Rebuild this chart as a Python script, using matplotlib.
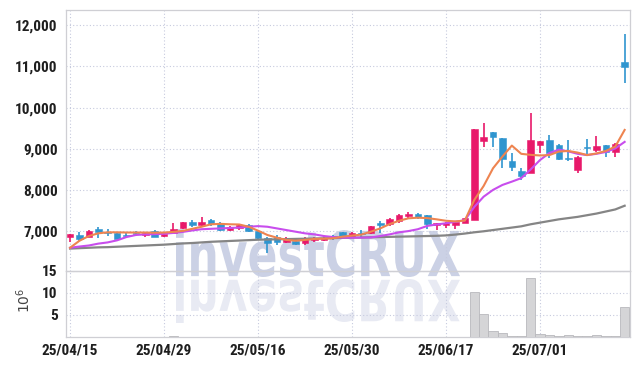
import matplotlib
matplotlib.use("Agg")
import matplotlib.pyplot as plt
import numpy as np
import pandas as pd
from matplotlib.textpath import TextPath
from matplotlib.font_manager import FontProperties, fontManager
from matplotlib.patches import PathPatch
from matplotlib.transforms import Affine2D, IdentityTransform

# ---------------- data ----------------
holidays = ['2025-05-01', '2025-05-05', '2025-05-06', '2025-06-03', '2025-06-06']
dates = [d for d in pd.bdate_range('2025-04-15', '2025-07-14') if d.strftime('%Y-%m-%d') not in holidays]

opens = [6855, 6910, 6855, 7055, 6985, 6950, 6910, 6950, 6920, 7015,
         6885, 6970, 7080, 7225, 7150, 7275, 7195, 7030, 7080, 7145,
         7000, 6835, 6870, 6750, 6770, 6710, 6780, 6790, 6885, 6990,
         6870, 6950, 6950, 7195, 7180, 7260, 7375, 7420, 7395, 7150,
         7150, 7150, 7210, 7275, 9180, 9400, 9260, 8715, 8465, 8420,
         9095, 9210, 9090, 8790, 8490, 9050, 8970, 9090, 8930, 11100]
closes = [6925, 6815, 7005, 6985, 6965, 6815, 6895, 6925, 6950, 6870,
          6935, 7055, 7225, 7150, 7225, 7180, 7030, 7100, 7150, 7005,
          6830, 6710, 6750, 6805, 6685, 6805, 6830, 6830, 6830, 6855,
          6950, 6930, 7130, 7155, 7300, 7395, 7420, 7340, 7180, 7195,
          7210, 7235, 7315, 9480, 9285, 9300, 8750, 8555, 8345, 9210,
          9190, 8895, 8750, 8750, 8815, 9015, 9065, 8935, 9130, 10990]
highs = [6930, 6975, 7030, 7100, 7050, 6975, 6950, 7010, 6980, 7020,
         6945, 7190, 7230, 7270, 7340, 7300, 7230, 7120, 7180, 7170,
         7010, 6850, 6910, 6870, 6800, 6850, 6870, 6890, 6910, 6990,
         6990, 7030, 7140, 7240, 7320, 7420, 7470, 7440, 7400, 7200,
         7220, 7240, 7320, 9480, 9640, 9400, 9260, 8890, 8540, 9865,
         9195, 9330, 9110, 9210, 8830, 9230, 9310, 9090, 9140, 11800]
lows = [6750, 6770, 6850, 6830, 6890, 6810, 6860, 6885, 6870, 6865,
        6870, 6960, 7060, 7110, 7120, 7120, 7010, 7010, 7020, 6990,
        6810, 6470, 6660, 6720, 6660, 6660, 6750, 6760, 6780, 6830,
        6830, 6870, 6940, 6960, 7130, 7190, 7330, 7300, 7050, 7030,
        7070, 7060, 7200, 7275, 9040, 9040, 8530, 8465, 8250, 8420,
        8900, 8790, 8730, 8710, 8420, 8850, 8930, 8800, 8800, 10600]
volumes = [0.06, 0.05, 0.07, 0.06, 0.04, 0.05, 0.04, 0.04, 0.03, 0.05,
           0.04, 0.30, 0.06, 0.05, 0.06, 0.05, 0.04, 0.04, 0.03, 0.04,
           0.05, 0.07, 0.05, 0.04, 0.04, 0.04, 0.03, 0.04, 0.04, 0.05,
           0.04, 0.04, 0.06, 0.05, 0.06, 0.07, 0.06, 0.05, 0.06, 0.04,
           0.05, 0.06, 0.07, 10.2, 5.2, 1.3, 1.0, 0.3, 0.3, 13.4,
           0.6, 0.45, 0.15, 0.4, 0.15, 0.15, 0.4, 0.15, 0.15, 6.8]
ma_short = [6600, 6770, 6885, 6950, 6975, 6975, 6970, 6970, 6970, 6965,
            6970, 6985, 7010, 7060, 7110, 7170, 7180, 7170, 7165, 7110,
            7015, 6910, 6845, 6790, 6770, 6790, 6815, 6820, 6830, 6870,
            6895, 6920, 6990, 7070, 7175, 7255, 7315, 7330, 7320, 7290,
            7255, 7240, 7260, 7760, 8100, 8530, 8815, 9080, 8880, 8855,
            8840, 8850, 8935, 8950, 8910, 8850, 8890, 8950, 9055, 9460]
ma_mid = [6600, 6630, 6655, 6700, 6730, 6780, 6860, 6910, 6925, 6930,
          6940, 6960, 6985, 7020, 7050, 7060, 7070, 7080, 7090, 7110,
          7125, 7110, 7070, 7030, 6990, 6950, 6925, 6885, 6860, 6845,
          6845, 6845, 6850, 6885, 6925, 6975, 7005, 7050, 7130, 7165,
          7195, 7230, 7270, 7590, 7840, 8005, 8125, 8205, 8290, 8500,
          8730, 8900, 8980, 8940, 8880, 8850, 8880, 8925, 9010, 9170]
ma_long = [6580, 6590, 6600, 6610, 6615, 6625, 6635, 6645, 6655, 6665,
           6675, 6690, 6705, 6715, 6730, 6745, 6755, 6765, 6775, 6785,
           6795, 6800, 6805, 6810, 6815, 6820, 6825, 6830, 6835, 6840,
           6845, 6850, 6855, 6860, 6865, 6870, 6875, 6880, 6885, 6890,
           6900, 6920, 6945, 6975, 7000, 7030, 7060, 7090, 7120, 7170,
           7210, 7250, 7290, 7320, 7350, 7390, 7430, 7480, 7530, 7620]
price_ticks = [7000, 8000, 9000, 10000, 11000, 12000]
vol_ticks = [5, 10, 15]
tick_every = 10

# ---------------- style ----------------
UP = '#e8196a'
DOWN = '#2f95cf'
names = {f.name for f in fontManager.ttflist}
cands = ['Roboto Condensed', 'Liberation Sans Narrow', 'DejaVu Sans Condensed', 'Roboto']
FONT = [n for n in cands if n in names] + ['DejaVu Sans']
plt.rcParams['font.family'] = FONT
GRID = dict(color='#c6cade', linestyle=(0, (1, 2)), linewidth=0.8)
SPINE = '#cfcfd4'

W, H = 639, 366
fig = plt.figure(figsize=(W / 100, H / 100), dpi=100, facecolor='white')
L, R = 66 / W, 630 / W
ax = fig.add_axes([L, 1 - 271 / H, R - L, (271 - 10) / H])
axv = fig.add_axes([L, 1 - 337 / H, R - L, (337 - 271) / H], sharex=ax)
for a in (ax, axv):
    a.set_facecolor('none')
    for s in a.spines.values():
        s.set_color(SPINE)
        s.set_linewidth(0.9)

x = np.arange(len(opens))

# watermark
fp = FontProperties(family='DejaVu Sans', weight='bold')
tp = TextPath((0, 0), 'investCRUX', size=100, prop=fp)
ext = tp.get_extents()
def place(x0, x1, yb, yt, flip=False):
    sx = (x1 - x0) / ext.width
    sy = (yt - yb) / ext.height
    t = Affine2D().translate(-ext.x0, -ext.y0).scale(sx, sy)
    if flip:
        t = Affine2D().translate(-ext.x0, -ext.y0).scale(sx, -sy).translate(0, yt - yb)
    return t.translate(x0, yb)
top_tr = place(176, 460, H - 277, H - 229)
bot_tr = place(176, 460, H - 323, H - 279, flip=True)
fig.patches.append(PathPatch(top_tr.transform_path(tp), transform=IdentityTransform(),
                             facecolor='#cbd1e5', edgecolor='none', zorder=-1, figure=fig))
fig.patches.append(PathPatch(bot_tr.transform_path(tp), transform=IdentityTransform(),
                             facecolor='#e8eaf3', edgecolor='none', zorder=-1, figure=fig))

# candles
for i in x:
    o, c, h, l = opens[i], closes[i], highs[i], lows[i]
    col = UP if c >= o else DOWN
    ax.vlines(i, l, h, color=col, linewidth=1.2, zorder=3)
    lo, hi = min(o, c), max(o, c)
    if hi - lo < 15:
        lo, hi = (o + c) / 2 - 10, (o + c) / 2 + 10
    ax.bar(i, hi - lo, bottom=lo, width=0.7, color=col, edgecolor=col, linewidth=0.4, zorder=4)

ax.plot(x, ma_long, color='#858585', linewidth=1.6, zorder=5)
ax.plot(x, ma_mid, color='#c84ded', linewidth=1.5, zorder=5)
ax.plot(x, ma_short, color='#ee8450', linewidth=1.5, zorder=5)

ax.set_ylim(6036, 12371)
ax.set_xlim(-0.43, 59.57)
ax.set_yticks(price_ticks)
ax.set_yticklabels([f'{v:,}' for v in price_ticks])
ax.grid(True, **GRID)
ax.set_axisbelow(True)
ax.tick_params(axis='y', length=0, pad=6, labelsize=11, labelcolor='#1e1e1e')
ax.tick_params(axis='x', length=0, labelbottom=False)
for t in ax.get_yticklabels():
    t.set_fontweight('bold')

# volume
axv.bar(x, volumes, width=1.0, color='#d5d5d7', edgecolor='#b9b9bd', linewidth=0.6, zorder=3)
axv.set_ylim(0, 15)
axv.set_yticks(vol_ticks)
axv.set_yticklabels([str(v) for v in vol_ticks])
tick_pos = x[::tick_every]
axv.set_xticks(tick_pos)
axv.set_xticklabels([dates[i].strftime('%y/%m/%d') for i in tick_pos])
axv.grid(True, **GRID)
axv.set_axisbelow(True)
axv.tick_params(axis='y', length=0, pad=6, labelsize=11, labelcolor='#1e1e1e')
axv.tick_params(axis='x', length=0, pad=5, labelsize=11, labelcolor='#1e1e1e')
for t in axv.get_yticklabels() + axv.get_xticklabels():
    t.set_fontweight('bold')
axv.set_ylabel('$10^6$', fontsize=10, color='#444444')
axv.yaxis.set_label_coords(-0.058, 0.55)

fig.savefig('out.png', dpi=100, facecolor='white')
